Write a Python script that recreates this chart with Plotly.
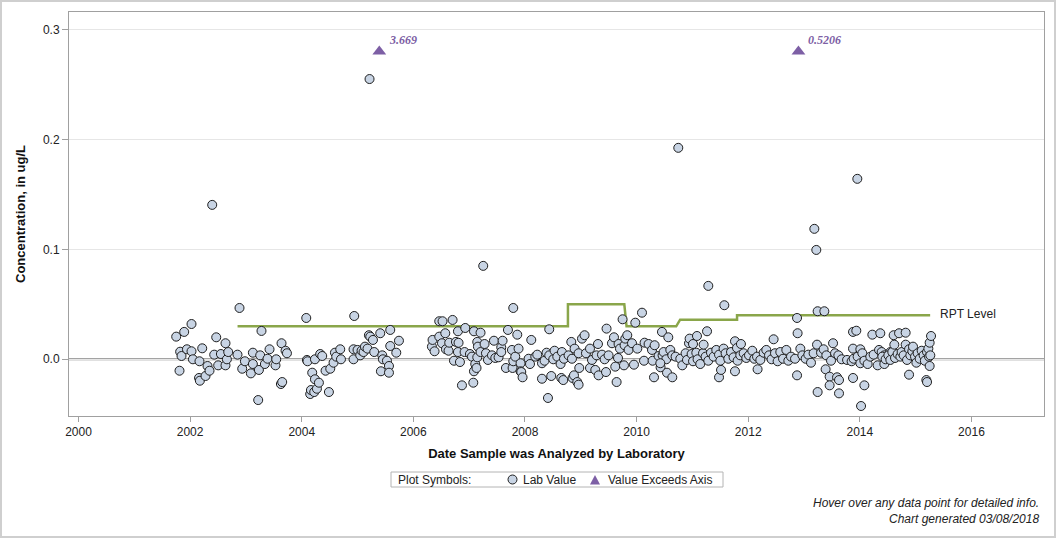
import plotly.graph_objects as go

# ---------------- data ----------------
years_a = [2001.751, 2001.810, 2001.822, 2001.846, 2001.894, 2001.943, 2002.025, 2002.025, 2002.050, 2002.168,
           2002.160, 2002.175, 2002.217, 2002.276, 2002.312, 2002.348, 2002.396, 2002.432, 2002.468, 2002.503,
           2002.552, 2002.634, 2002.634, 2002.659, 2002.683, 2002.849, 2002.885, 2002.934, 2002.982, 2003.089,
           2003.125, 2003.125, 2003.220, 2003.233, 2003.256, 2003.279, 2003.340, 2003.387, 2003.423, 2003.530,
           2003.543, 2003.627, 2003.638, 2003.650, 2003.710, 2003.735, 2004.081, 2004.093, 2004.104, 2004.152,
           2004.165, 2004.188, 2004.224, 2004.237, 2004.237, 2004.272, 2004.308, 2004.331, 2004.367, 2004.427,
           2004.487, 2004.511, 2004.570, 2004.595, 2004.618, 2004.690, 2004.703, 2004.928, 2004.928, 2004.941,
           2005.000, 2005.048, 2005.072, 2005.108, 2005.133, 2005.179, 2005.204, 2005.215, 2005.228, 2005.276,
           2005.299, 2005.407, 2005.419, 2005.443, 2005.455, 2005.527, 2005.563, 2005.563, 2005.586, 2005.586,
           2005.694, 2005.742]
conc_a = [0.0206, -0.0104, 0.0069, 0.0030, 0.0249, 0.0091, 0.0321, 0.0073, 0.0000, -0.0018,
          -0.0170, -0.0195, 0.0100, -0.0152, -0.0061, -0.0104, 0.1405, 0.0042, 0.0200, -0.0055,
          0.0048, 0.0146, -0.0055, 0.0000, 0.0066, 0.0042, 0.0467, -0.0086, -0.0018, -0.0128,
          0.0060, -0.0043, -0.0371, -0.0097, 0.0036, 0.0258, -0.0043, 0.0005, 0.0091, -0.0055,
          0.0000, -0.0225, 0.0146, -0.0207, 0.0078, 0.0055, 0.0376, -0.0006, -0.0018, -0.0316,
          -0.0280, -0.0122, -0.0298, 0.0000, -0.0182, -0.0268, -0.0213, 0.0048, 0.0030, -0.0104,
          -0.0298, -0.0086, -0.0031, 0.0060, 0.0024, 0.0091, 0.0000, 0.0091, 0.0000, 0.0394,
          0.0085, 0.0036, 0.0078, 0.0066, 0.0115, 0.0097, 0.0219, 0.2550, 0.0206, 0.0176,
          0.0066, 0.0237, -0.0109, 0.0036, 0.0000, -0.0013, -0.0061, -0.0122, 0.0267, 0.0121,
          0.0060, 0.0169]

years_b = [2006.333, 2006.344, 2006.380, 2006.464, 2006.464, 2006.513, 2006.523, 2006.572, 2006.584, 2006.631,
           2006.643, 2006.703, 2006.728, 2006.763, 2006.799, 2006.799, 2006.810, 2006.835, 2006.871, 2006.918,
           2006.930, 2007.014, 2007.050, 2007.074, 2007.086, 2007.086, 2007.109, 2007.132, 2007.145, 2007.157,
           2007.145, 2007.204, 2007.204, 2007.252, 2007.276, 2007.301, 2007.337, 2007.409, 2007.444, 2007.468,
           2007.527, 2007.575, 2007.575, 2007.599, 2007.659, 2007.695, 2007.767, 2007.778, 2007.790, 2007.790,
           2007.826, 2007.862, 2007.885, 2007.921, 2007.921, 2007.934, 2007.957, 2008.065, 2008.090, 2008.113,
           2008.185, 2008.220, 2008.305, 2008.305, 2008.351, 2008.387, 2008.412, 2008.435, 2008.435, 2008.471,
           2008.507, 2008.530, 2008.579, 2008.638, 2008.651, 2008.663, 2008.686, 2008.699, 2008.781, 2008.830,
           2008.842, 2008.853, 2008.878, 2008.889, 2008.937, 2008.961, 2008.961, 2008.973, 2009.022, 2009.068,
           2009.093, 2009.165, 2009.165, 2009.201, 2009.260, 2009.283, 2009.308, 2009.319, 2009.380, 2009.427,
           2009.452, 2009.462, 2009.498, 2009.559, 2009.595, 2009.618, 2009.642, 2009.667, 2009.677, 2009.702,
           2009.749, 2009.774, 2009.785, 2009.797, 2009.833, 2009.857, 2009.918, 2009.953, 2009.977, 2010.013,
           2010.097, 2010.133, 2010.143, 2010.215, 2010.276, 2010.287, 2010.312, 2010.323, 2010.394, 2010.430,
           2010.455, 2010.466]
conc_b = [0.0115, 0.0176, 0.0073, 0.0206, 0.0346, 0.0146, 0.0346, 0.0237, 0.0091, 0.0078,
          0.0151, 0.0358, -0.0013, 0.0158, 0.0255, 0.0066, 0.0150, -0.0025, -0.0237, 0.0066,
          0.0285, 0.0048, 0.0024, -0.0213, 0.0255, -0.0109, -0.0043, -0.0079, 0.0158, 0.0115,
          0.0018, 0.0242, 0.0066, 0.0850, 0.0139, 0.0055, -0.0006, 0.0036, 0.0169, 0.0012,
          0.0018, 0.0109, 0.0066, 0.0169, -0.0079, 0.0267, 0.0085, -0.0079, 0.0467, -0.0018,
          0.0024, 0.0224, 0.0097, -0.0036, -0.0109, -0.0116, -0.0164, 0.0005, -0.0043, 0.0176,
          0.0024, 0.0042, -0.0036, -0.0177, -0.0013, 0.0060, -0.0352, 0.0273, 0.0036, -0.0152,
          0.0000, 0.0078, 0.0024, -0.0043, -0.0170, 0.0066, -0.0189, 0.0005, 0.0036, 0.0158,
          0.0005, -0.0170, -0.0146, 0.0097, -0.0207, 0.0055, -0.0231, -0.0079, 0.0188, 0.0219,
          0.0055, 0.0097, -0.0079, -0.0006, -0.0097, 0.0036, 0.0139, -0.0146, 0.0042, 0.0000,
          -0.0116, 0.0279, 0.0036, 0.0146, 0.0200, -0.0067, -0.0207, 0.0012, 0.0139, 0.0097,
          0.0364, -0.0055, 0.0128, 0.0188, 0.0219, 0.0085, 0.0146, -0.0049, 0.0333, 0.0097,
          0.0424, -0.0013, 0.0151, 0.0139, 0.0085, -0.0013, -0.0164, 0.0128, 0.0030, -0.0073,
          0.0249, 0.0036]

years_c = [2010.484, 2010.532, 2010.545, 2010.568, 2010.425, 2010.604, 2010.640, 2010.640, 2010.699, 2010.747,
           2010.783, 2010.819, 2010.878, 2010.903, 2010.939, 2010.950, 2010.986, 2011.011, 2011.011, 2011.070,
           2011.082, 2011.093, 2011.141, 2011.190, 2011.201, 2011.237, 2011.262, 2011.285, 2011.285, 2011.333,
           2011.380, 2011.428, 2011.477, 2011.477, 2011.500, 2011.513, 2011.559, 2011.572, 2011.595, 2011.643,
           2011.692, 2011.738, 2011.763, 2011.763, 2011.799, 2011.810, 2011.858, 2011.870, 2011.918, 2011.966,
           2012.014, 2012.073, 2012.109, 2012.158, 2012.168, 2012.217, 2012.276, 2012.324, 2012.373, 2012.419,
           2012.455, 2012.480, 2012.527, 2012.575, 2012.624, 2012.683, 2012.719, 2012.767, 2012.839, 2012.875,
           2012.875, 2012.885, 2012.934, 2012.970, 2013.029, 2013.077, 2013.125, 2013.172, 2013.185, 2013.220,
           2013.233, 2013.244, 2013.244, 2013.305, 2013.351, 2013.364, 2013.387, 2013.400, 2013.459, 2013.459,
           2013.484, 2013.520, 2013.556, 2013.592, 2013.615, 2013.627, 2013.627, 2013.674, 2013.771, 2013.853,
           2013.878, 2013.878, 2013.878, 2013.889, 2013.937, 2013.955, 2013.961, 2014.009, 2014.009, 2014.022,
           2014.045, 2014.081, 2014.081, 2014.140, 2014.188, 2014.224, 2014.247, 2014.319, 2014.344, 2014.367,
           2014.391, 2014.439, 2014.487, 2014.547]
conc_c = [0.0066, 0.0000, -0.0122, 0.0200, -0.0036, 0.0085, 0.0036, -0.0164, 0.0024, 0.1924,
          0.0005, -0.0055, 0.0055, -0.0006, 0.0146, 0.0188, 0.0048, 0.0139, -0.0018, 0.0060,
          0.0212, 0.0000, -0.0043, 0.0055, 0.0133, 0.0024, 0.0255, 0.0668, -0.0013, 0.0060,
          0.0024, 0.0085, 0.0042, -0.0164, -0.0013, -0.0097, 0.0097, 0.0492, 0.0055, 0.0005,
          0.0066, 0.0018, 0.0164, -0.0109, 0.0103, -0.0013, 0.0036, 0.0139, 0.0055, 0.0012,
          0.0036, 0.0078, 0.0005, 0.0024, -0.0091, -0.0006, 0.0060, 0.0085, 0.0036, 0.0000,
          0.0182, 0.0055, -0.0018, 0.0066, 0.0005, 0.0085, -0.0013, 0.0024, 0.0005, 0.0376,
          -0.0146, 0.0237, 0.0097, 0.0036, 0.0005, 0.0042, -0.0031, 0.0055, 0.1187, 0.0995,
          0.0133, 0.0437, -0.0298, 0.0060, 0.0091, 0.0437, -0.0091, 0.0036, -0.0158, -0.0237,
          -0.0013, 0.0146, 0.0055, -0.0164, 0.0036, -0.0189, -0.0310, 0.0000, -0.0006, -0.0018,
          0.0249, 0.0097, -0.0170, 0.0005, 0.0260, 0.1642, 0.0024, 0.0091, -0.0036, -0.0425,
          0.0055, -0.0013, -0.0237, -0.0043, 0.0024, 0.0224, 0.0042, -0.0055, 0.0085, 0.0237,
          0.0066, 0.0036, -0.0006, 0.0066]

years_d = [2014.403, 2014.439, 2014.462, 2014.511, 2014.547, 2014.582, 2014.606, 2014.618, 2014.631, 2014.677,
           2014.703, 2014.726, 2014.749, 2014.785, 2014.821, 2014.821, 2014.846, 2014.882, 2014.882, 2014.905,
           2014.941, 2014.953, 2014.989, 2015.013, 2015.036, 2015.072, 2015.108, 2015.143, 2015.165, 2015.192,
           2015.204, 2015.204, 2015.228, 2015.240, 2015.251, 2015.251, 2015.263, 2015.276]
conc_d = [0.0024, -0.0043, 0.0000, 0.0036, -0.0006, 0.0066, 0.0219, 0.0133, 0.0012, 0.0048,
          0.0237, 0.0024, 0.0066, 0.0036, 0.0242, 0.0133, -0.0006, 0.0091, -0.0140, 0.0036,
          0.0073, 0.0115, 0.0024, -0.0031, 0.0055, 0.0005, 0.0078, 0.0036, -0.0013, -0.0189,
          -0.0207, 0.0066, 0.0097, 0.0024, 0.0151, -0.0061, 0.0036, 0.0212]

rpt_year = [2002.85, 2008.77, 2008.77, 2009.78, 2009.82, 2010.71, 2010.78, 2011.80, 2011.80, 2015.26]
rpt_level = [0.030, 0.030, 0.050, 0.050, 0.030, 0.030, 0.036, 0.036, 0.040, 0.040]

exceed_year = [2005.39, 2012.90]
exceed_value = [3.669, 0.5206]
axis_cap = 0.28

y_ticks = [0.0, 0.1, 0.2, 0.3]
y_tick_text = ["0.0", "0.1", "0.2", "0.3"]
x_ticks = [2000, 2002, 2004, 2006, 2008, 2010, 2012, 2014, 2016]

lab_year = years_a + years_b + years_c + years_d
lab_conc = conc_a + conc_b + conc_c + conc_d

# ---------------- styles ----------------
FONT = "Arial, 'Liberation Sans', sans-serif"
CIRCLE_FILL = "#C8D4E4"
CIRCLE_LINE = "#1E1E1E"
PURPLE = "#7D5FA5"
GREEN = "#8AA64A"
FRAME = "#A0A0A0"

W, H = 1056, 538
ML, MR, MT, MB = 69, 12, 12, 122
PW, PH = W - ML - MR, H - MT - MB


def px_x(p):
    return (p - ML) / PW


def px_y(p):
    return (H - MB - p) / PH


fig = go.Figure()

fig.add_trace(go.Scatter(
    x=rpt_year, y=rpt_level, mode="lines",
    line=dict(color=GREEN, width=2.5), hoverinfo="skip", showlegend=False))

fig.add_trace(go.Scatter(
    x=lab_year, y=lab_conc, mode="markers", name="Lab Value",
    marker=dict(symbol="circle", size=9, color=CIRCLE_FILL,
                line=dict(color=CIRCLE_LINE, width=1)),
    showlegend=False))

fig.add_trace(go.Scatter(
    x=exceed_year, y=[axis_cap] * len(exceed_year), mode="markers",
    name="Value Exceeds Axis", customdata=exceed_value,
    marker=dict(symbol="triangle-up", size=12, color=PURPLE, line=dict(width=0)),
    showlegend=False))

for xv, v in zip(exceed_year, exceed_value):
    fig.add_annotation(x=xv, y=axis_cap, text=f"<b><i>{v}</i></b>", showarrow=False,
                       xanchor="left", yanchor="middle", xshift=8, yshift=12,
                       font=dict(family="'Liberation Serif', 'Times New Roman', serif",
                                 size=12, color=PURPLE))

fig.add_annotation(x=rpt_year[-1], y=rpt_level[-1], text="RPT Level", showarrow=False,
                   xanchor="left", yanchor="middle", xshift=8, yshift=1,
                   font=dict(family=FONT, size=12, color="#222222"))

shapes = []
# zero reference line
shapes.append(dict(type="line", xref="paper", yref="y", x0=0, x1=1, y0=0, y1=0,
                   line=dict(color="#858585", width=2), layer="between"))
# outer border of the whole graphic
shapes.append(dict(type="rect", xref="paper", yref="paper",
                   x0=px_x(1), x1=px_x(W - 1), y0=px_y(H - 1), y1=px_y(1),
                   line=dict(color="#CFCFCF", width=2), fillcolor="rgba(0,0,0,0)"))
# legend box
shapes.append(dict(type="rect", xref="paper", yref="paper",
                   x0=px_x(391), x1=px_x(723), y0=px_y(487), y1=px_y(472),
                   line=dict(color="#B4B4B4", width=1), fillcolor="white"))
shapes.append(dict(type="circle", xref="paper", yref="paper",
                   x0=px_x(508), x1=px_x(517), y0=px_y(484), y1=px_y(475),
                   line=dict(color=CIRCLE_LINE, width=1), fillcolor=CIRCLE_FILL))
shapes.append(dict(type="path", xref="paper", yref="paper",
                   path=f"M {px_x(590)} {px_y(484.5)} L {px_x(600)} {px_y(484.5)} L {px_x(595)} {px_y(475)} Z",
                   line=dict(width=0), fillcolor=PURPLE))

legend_font = dict(family=FONT, size=12, color="#222222")
fig.add_annotation(xref="paper", yref="paper", x=px_x(396), y=px_y(479.5), text="Plot Symbols:",
                   showarrow=False, xanchor="left", yanchor="middle", font=legend_font)
fig.add_annotation(xref="paper", yref="paper", x=px_x(521), y=px_y(479.5), text="Lab Value",
                   showarrow=False, xanchor="left", yanchor="middle", font=legend_font)
fig.add_annotation(xref="paper", yref="paper", x=px_x(606), y=px_y(479.5), text="Value Exceeds Axis",
                   showarrow=False, xanchor="left", yanchor="middle", font=legend_font)

fig.add_annotation(xref="paper", yref="paper", x=px_x(1041), y=px_y(511),
                   text="<i>Hover over any data point for detailed info.</i><br><i>Chart generated 03/08/2018</i>",
                   showarrow=False, xanchor="right", yanchor="middle", align="right",
                   font=dict(family=FONT, size=12, color="#222222"))

fig.update_layout(
    width=W, height=H,
    margin=dict(l=ML, r=MR, t=MT, b=MB),
    paper_bgcolor="white", plot_bgcolor="white",
    font=dict(family=FONT, size=12, color="#222222"),
    showlegend=False,
    shapes=shapes,
    xaxis=dict(range=[1999.83, 2017.30], tickmode="array", tickvals=x_ticks,
               ticks="outside", ticklen=5, tickcolor=FRAME, showgrid=False, zeroline=False,
               showline=True, mirror=True, linecolor=FRAME, linewidth=1,
               tickfont=dict(size=12, color="#222222"),
               title=dict(text="<b>Date Sample was Analyzed by Laboratory</b>",
                          font=dict(size=13, color="#111111"), standoff=10)),
    yaxis=dict(range=[-0.0516, 0.316], tickmode="array", tickvals=y_ticks, ticktext=y_tick_text,
               ticks="outside", ticklen=6, tickcolor=FRAME, showgrid=True, gridcolor="#E6E6E6",
               zeroline=False, showline=True, mirror=True, linecolor=FRAME, linewidth=1,
               tickfont=dict(size=12, color="#222222"),
               title=dict(text="<b>Concentration, in ug/L</b>",
                          font=dict(size=13, color="#111111"), standoff=14)),
)

fig.write_html("out.html")
